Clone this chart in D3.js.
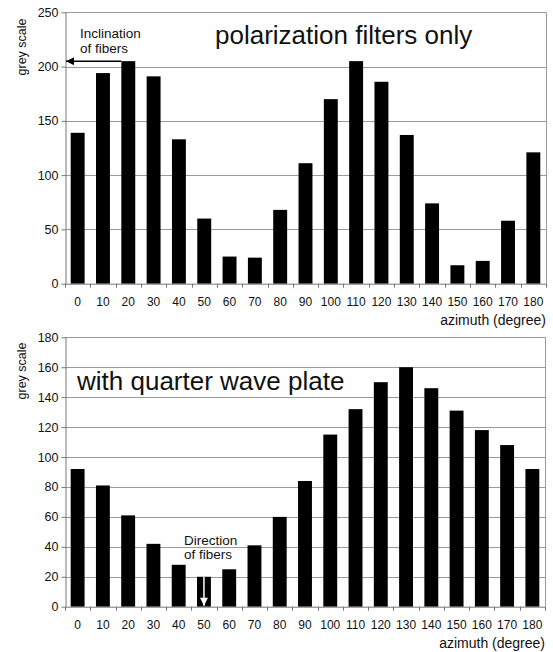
<!DOCTYPE html>

<head>
	<meta charset="utf-8" />
	<style>
		body {
			margin: 0;
			background-color: #fff;
		}

		svg text {
			font-family: 'Liberation Sans', Arial, sans-serif;
			fill: #111;
		}

		.grid line {
			stroke: #9a9a9a;
			stroke-width: 1;
		}
	</style>
</head>

<body>
	<div id="chart-area"></div>

	<script src="https://cdnjs.cloudflare.com/ajax/libs/d3/7.8.5/d3.min.js"></script>
	<script>
		// azimuth angles (degree)
		var azimuths = [0, 10, 20, 30, 40, 50, 60, 70, 80, 90, 100, 110, 120, 130, 140, 150, 160, 170, 180];

		// grey scale, polarization filters only
		var greyFilters = [139, 194, 205, 191, 133, 60, 25, 24, 68, 111, 170, 205, 186, 137, 74, 17, 21, 58, 121];

		// grey scale, with quarter wave plate
		var greyQuarter = [92, 81, 61, 42, 28, 20, 25, 41, 60, 84, 115, 132, 150, 160, 146, 131, 118, 108, 92];

		var topTicks = [0, 50, 100, 150, 200, 250];
		var bottomTicks = [0, 20, 40, 60, 80, 100, 120, 140, 160, 180];

		var svg = d3
			.select('#chart-area')
			.append('svg')
			.attr('width', 553)
			.attr('height', 652);

		var defs = svg.append('defs');
		defs.append('marker')
			.attr('id', 'head-black')
			.attr('viewBox', '0 0 10 10')
			.attr('refX', 10)
			.attr('refY', 5)
			.attr('markerWidth', 10)
			.attr('markerHeight', 8)
			.attr('markerUnits', 'userSpaceOnUse')
			.attr('orient', 'auto')
			.append('path')
			.attr('d', 'M0,0L10,5L0,10z')
			.attr('fill', '#000');
		defs.append('marker')
			.attr('id', 'head-white')
			.attr('viewBox', '0 0 10 10')
			.attr('refX', 10)
			.attr('refY', 5)
			.attr('markerWidth', 10)
			.attr('markerHeight', 8)
			.attr('markerUnits', 'userSpaceOnUse')
			.attr('orient', 'auto')
			.append('path')
			.attr('d', 'M0,0L10,5L0,10z')
			.attr('fill', '#fff');

		function drawPanel(opts) {
			var g = svg.append('g');

			var x = d3
				.scaleBand()
				.domain(azimuths)
				.range([opts.left, opts.right])
				.paddingInner(0.45)
				.paddingOuter(0.225);

			var y = d3
				.scaleLinear()
				.domain([0, opts.max])
				.range([opts.bottom, opts.top]);

			// grid
			g.append('g')
				.attr('class', 'grid')
				.selectAll('line')
				.data(opts.ticks.slice(1))
				.join('line')
				.attr('x1', opts.left)
				.attr('x2', opts.right)
				.attr('y1', d => Math.round(y(d)) + 0.5)
				.attr('y2', d => Math.round(y(d)) + 0.5);

			// frame right
			g.append('line')
				.attr('x1', opts.right + 0.5)
				.attr('x2', opts.right + 0.5)
				.attr('y1', y(opts.max))
				.attr('y2', opts.bottom)
				.attr('stroke', '#9a9a9a');

			// bars
			g.selectAll('.bar')
				.data(opts.values)
				.join('rect')
				.attr('class', 'bar')
				.attr('x', (d, i) => x(azimuths[i]))
				.attr('width', x.bandwidth())
				.attr('y', d => y(d))
				.attr('height', d => y(0) - y(d))
				.attr('fill', '#000');

			// y axis
			var yAxis = d3.axisLeft(y).tickValues(opts.ticks).tickSize(4).tickSizeOuter(0);
			var ya = g.append('g')
				.attr('transform', 'translate(' + (opts.left + 0.5) + ',0)')
				.call(yAxis);
			ya.select('.domain').attr('stroke', '#777');
			ya.selectAll('.tick line').attr('stroke', '#777');
			ya.selectAll('.tick text')
				.attr('font-size', 12.5)
				.attr('x', -7)
				.style('font-family', 'Liberation Sans, Arial, sans-serif');

			// x axis line and boundary ticks
			var step = x.step();
			var bounds = d3.range(azimuths.length + 1).map(i => opts.left + i * step);
			g.append('line')
				.attr('x1', opts.left)
				.attr('x2', opts.right)
				.attr('y1', opts.bottom + 0.5)
				.attr('y2', opts.bottom + 0.5)
				.attr('stroke', '#777');
			g.selectAll('.xtick')
				.data(bounds)
				.join('line')
				.attr('class', 'xtick')
				.attr('x1', d => Math.round(d) + 0.5)
				.attr('x2', d => Math.round(d) + 0.5)
				.attr('y1', opts.bottom)
				.attr('y2', opts.bottom + 4)
				.attr('stroke', '#777');

			g.selectAll('.xlabel')
				.data(azimuths)
				.join('text')
				.attr('class', 'xlabel')
				.attr('x', d => x(d) + x.bandwidth() / 2)
				.attr('y', opts.bottom + 22)
				.attr('text-anchor', 'middle')
				.attr('font-size', 12)
				.text(d => d);

			g.append('text')
				.attr('x', opts.right)
				.attr('y', opts.bottom + 41)
				.attr('text-anchor', 'end')
				.attr('font-size', 14)
				.text('azimuth (degree)');

			g.append('text')
				.attr('transform', 'translate(26,' + opts.yTitle + ') rotate(-90)')
				.attr('text-anchor', 'middle')
				.attr('font-size', 12.5)
				.text('grey scale');

			g.append('text')
				.attr('x', opts.titleX)
				.attr('y', opts.titleY)
				.attr('font-size', 26)
				.text(opts.title);

			return { g: g, x: x, y: y };
		}

		var p1 = drawPanel({
			left: 65,
			right: 546,
			top: 12.3,
			bottom: 283.7,
			max: 250,
			ticks: topTicks,
			values: greyFilters,
			yTitle: 47,
			title: 'polarization filters only',
			titleX: 215,
			titleY: 44,
		});

		var p2 = drawPanel({
			left: 65,
			right: 545,
			top: 337.3,
			bottom: 606.7,
			max: 180,
			ticks: bottomTicks,
			values: greyQuarter,
			yTitle: 371,
			title: 'with quarter wave plate',
			titleX: 77,
			titleY: 390,
		});

		// annotation top: inclination of fibers
		var i20 = azimuths.indexOf(20);
		p1.g.append('line')
			.attr('x1', p1.x(20))
			.attr('x2', 66)
			.attr('y1', p1.y(greyFilters[i20]))
			.attr('y2', p1.y(greyFilters[i20]))
			.attr('stroke', '#000')
			.attr('stroke-width', 1.5)
			.attr('marker-end', 'url(#head-black)');
		p1.g.append('text')
			.attr('x', 80)
			.attr('y', 38)
			.attr('font-size', 13.5)
			.text('Inclination');
		p1.g.append('text')
			.attr('x', 80)
			.attr('y', 53)
			.attr('font-size', 13.5)
			.text('of fibers');

		// annotation bottom: direction of fibers
		var i50 = azimuths.indexOf(50);
		var cx = p2.x(50) + p2.x.bandwidth() / 2;
		p2.g.append('line')
			.attr('x1', cx)
			.attr('x2', cx)
			.attr('y1', p2.y(greyQuarter[i50]))
			.attr('y2', p2.y(0) - 1)
			.attr('stroke', '#fff')
			.attr('stroke-width', 1.5)
			.attr('marker-end', 'url(#head-white)');
		p2.g.append('text')
			.attr('x', 184)
			.attr('y', 545)
			.attr('font-size', 13.5)
			.text('Direction');
		p2.g.append('text')
			.attr('x', 184)
			.attr('y', 559)
			.attr('font-size', 13.5)
			.text('of fibers');
	</script>
</body>
